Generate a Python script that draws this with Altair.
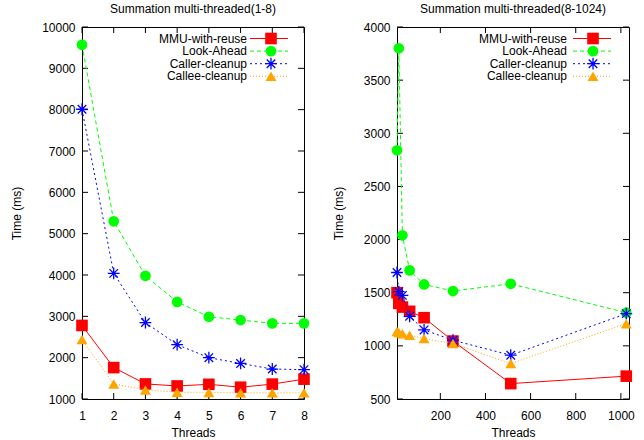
import altair as alt
import pandas as pd

# ---------------- data ----------------
series = ["MMU-with-reuse", "Look-Ahead", "Caller-cleanup", "Callee-cleanup"]

threads_left = [1, 2, 3, 4, 5, 6, 7, 8]
mmu_left = [2780, 1760, 1365, 1315, 1355, 1285, 1360, 1480]
look_left = [9570, 5300, 3980, 3350, 2990, 2910, 2830, 2830]
caller_left = [8010, 4040, 2850, 2315, 2000, 1860, 1725, 1710]
callee_left = [2440, 1365, 1220, 1165, 1160, 1150, 1150, 1150]

threads_right = [8, 16, 32, 64, 128, 256, 512, 1024]
mmu_right = [1500, 1400, 1365, 1325, 1265, 1045, 645, 715]
look_right = [2840, 3800, 2040, 1710, 1578, 1516, 1584, 1312]
caller_right = [1690, 1510, 1475, 1278, 1150, 1053, 912, 1303]
callee_right = [1135, 1125, 1115, 1100, 1069, 1022, 834, 1209]

x_ticks_left = [1, 2, 3, 4, 5, 6, 7, 8]
y_ticks_left = [1000, 2000, 3000, 4000, 5000, 6000, 7000, 8000, 9000, 10000]
x_ticks_right = [200, 400, 600, 800, 1000]
y_ticks_right = [500, 1000, 1500, 2000, 2500, 3000, 3500, 4000]

# ---------------- styles ----------------
FONT = "Liberation Sans"
FS = 12
colors = ["#ff0000", "#00ff00", "#0000ff", "#ffa500"]
dashes = [None, [4, 3], [2, 3], [1, 2]]
ASTERISK = "M-1,0L1,0M0,-1L0,1M-0.72,-0.72L0.72,0.72M-0.72,0.72L0.72,-0.72"
shapes = ["square", "circle", ASTERISK, "triangle-up"]
filled = [True, True, False, True]
sizes = [135, 115, 140, 120]


def line_mark(i):
    kw = dict(color=colors[i], strokeWidth=1)
    if dashes[i] is not None:
        kw["strokeDash"] = dashes[i]
    return kw


def point_mark(i):
    kw = dict(shape=shapes[i], filled=filled[i], size=sizes[i], color=colors[i], opacity=1)
    if not filled[i]:
        kw["strokeWidth"] = 1.3
    return kw


def panel(title, threads, values, xdom, ydom, xticks, yticks, w, h, leg):
    xs = alt.Scale(domain=xdom, nice=False, zero=False)
    ys = alt.Scale(domain=ydom, nice=False, zero=False)
    xax = alt.Axis(values=xticks, title="Threads", grid=False, ticks=False, tickSize=0,
                   domain=False, labelPadding=11, titlePadding=6, labelFlush=False,
                   labelOverlap=False, format="d")
    yax = alt.Axis(values=yticks, title="Time (ms)", grid=False, ticks=False, tickSize=0,
                   domain=False, labelPadding=7, titlePadding=18, labelFlush=False,
                   labelOverlap=False, format="d")
    X = alt.X("Threads:Q", scale=xs, axis=xax)
    Y = alt.Y("Time:Q", scale=ys, axis=yax)

    layers = []
    xt = pd.DataFrame({"Threads": xticks})
    yt = pd.DataFrame({"Time": yticks})
    tl = 6
    layers.append(alt.Chart(xt).mark_rule(color="black", strokeWidth=1).encode(
        x=X, y=alt.value(0), y2=alt.value(tl)))
    layers.append(alt.Chart(xt).mark_rule(color="black", strokeWidth=1).encode(
        x=X, y=alt.value(h), y2=alt.value(h - tl)))
    layers.append(alt.Chart(yt).mark_rule(color="black", strokeWidth=1).encode(
        y=Y, x=alt.value(0), x2=alt.value(tl)))
    layers.append(alt.Chart(yt).mark_rule(color="black", strokeWidth=1).encode(
        y=Y, x=alt.value(w), x2=alt.value(w - tl)))

    for i, name in enumerate(series):
        df = pd.DataFrame({"Threads": threads, "Time": values[i]})
        layers.append(alt.Chart(df).mark_line(**line_mark(i)).encode(x=X, y=Y))
        layers.append(alt.Chart(df).mark_point(**point_mark(i)).encode(x=X, y=Y))

    # key (gnuplot style: label, then line sample with marker)
    lab_x, l1, l2, mk = leg
    for i, name in enumerate(series):
        ry = 11.5 + 12.6 * i
        ldf = pd.DataFrame({"series": [name]})
        layers.append(alt.Chart(ldf).mark_text(align="right", baseline="middle", font=FONT,
                                               fontSize=FS, color="black").encode(
            text="series:N", x=alt.value(w - lab_x), y=alt.value(ry)))
        layers.append(alt.Chart(ldf).mark_rule(**line_mark(i)).encode(
            x=alt.value(w - l1), x2=alt.value(w - l2), y=alt.value(ry)))
        layers.append(alt.Chart(ldf).mark_point(**point_mark(i)).encode(
            x=alt.value(w - mk), y=alt.value(ry)))

    return alt.layer(*layers).properties(
        width=w, height=h,
        title=alt.TitleParams(text=title, font=FONT, fontSize=FS, fontWeight="normal",
                              color="black", offset=5, anchor="middle"))


left = panel("Summation multi-threaded(1-8)", threads_left,
             [mmu_left, look_left, caller_left, callee_left],
             [1, 8], [1000, 10000], x_ticks_left, y_ticks_left, 222, 372,
             (57, 54, 16, 33))
right = panel("Summation multi-threaded(8-1024)", threads_right,
              [mmu_right, look_right, caller_right, callee_right],
              [8, 1036], [500, 4000], x_ticks_right, y_ticks_right, 232, 372,
              (62, 56, 18, 36))

chart = alt.hconcat(left, right, spacing=17).properties(
    padding={"left": 10, "top": 2, "right": 5, "bottom": 2}
).configure_view(stroke="black", strokeWidth=1).configure_axis(
    labelFont=FONT, labelFontSize=FS, labelColor="black",
    titleFont=FONT, titleFontSize=FS, titleFontWeight="normal", titleColor="black"
)

chart.save("out.html", embed_options={"renderer": "svg", "actions": False})
